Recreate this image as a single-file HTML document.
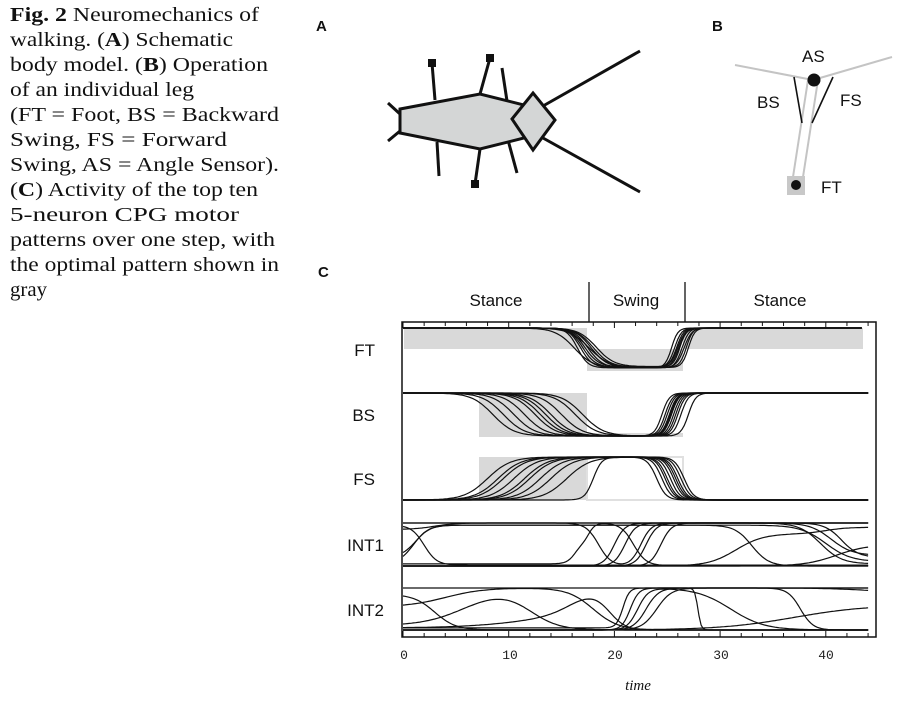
<!DOCTYPE html>
<html><head><meta charset="utf-8"><style>
html,body{margin:0;padding:0;background:#fff;}
svg{display:block;}
</style></head><body>
<svg id="s" width="905" height="703" viewBox="0 0 905 703" xmlns="http://www.w3.org/2000/svg">
<g font-family="Liberation Serif, serif" font-size="20" fill="#111">
<text x="10" y="21" textLength="249" lengthAdjust="spacingAndGlyphs"><tspan font-weight="bold">Fig. 2</tspan>  Neuromechanics of</text>
<text x="10" y="46" textLength="223" lengthAdjust="spacingAndGlyphs">walking. (<tspan font-weight="bold">A</tspan>) Schematic</text>
<text x="10" y="71" textLength="258" lengthAdjust="spacingAndGlyphs">body model. (<tspan font-weight="bold">B</tspan>) Operation</text>
<text x="10" y="96" textLength="184" lengthAdjust="spacingAndGlyphs">of an individual leg</text>
<text x="10" y="121" textLength="269" lengthAdjust="spacingAndGlyphs">(FT = Foot, BS = Backward</text>
<text x="10" y="146" textLength="217" lengthAdjust="spacingAndGlyphs">Swing, FS  =  Forward</text>
<text x="10" y="171" textLength="269" lengthAdjust="spacingAndGlyphs">Swing, AS = Angle Sensor).</text>
<text x="10" y="196" textLength="248" lengthAdjust="spacingAndGlyphs">(<tspan font-weight="bold">C</tspan>) Activity of the top ten</text>
<text x="10" y="221" textLength="229" lengthAdjust="spacingAndGlyphs">5-neuron CPG motor</text>
<text x="10" y="246" textLength="265" lengthAdjust="spacingAndGlyphs">patterns over one step, with</text>
<text x="10" y="271" textLength="269" lengthAdjust="spacingAndGlyphs">the optimal pattern shown in</text>
<text x="10" y="296" textLength="37" lengthAdjust="spacingAndGlyphs">gray</text>
</g>
<g font-family="Liberation Sans, sans-serif" font-weight="bold" font-size="15" fill="#111">
<text x="316" y="31">A</text><text x="712" y="31">B</text><text x="318" y="277">C</text>
</g>
<!-- Panel A -->
<g stroke="#111" stroke-width="3" fill="none" stroke-linecap="butt">
<line x1="543" y1="106" x2="640" y2="51"/><line x1="543" y1="138" x2="640" y2="192"/>
<line x1="388" y1="103" x2="400" y2="114"/><line x1="388" y1="141" x2="400" y2="131"/>
<line x1="435" y1="100" x2="432" y2="63"/><line x1="480" y1="94" x2="490" y2="58"/>
<line x1="507" y1="101" x2="502" y2="68"/>
<line x1="437" y1="142" x2="439" y2="176"/><line x1="480" y1="149" x2="475" y2="184"/>
<line x1="508" y1="140" x2="517" y2="173"/>
<polygon points="400,109 480,94 528,106 528,137 480,149 400,133" fill="#d4d6d6"/>
<polygon points="533,93 555,120 533,150 512,119" fill="#d4d6d6"/>
</g>
<g fill="#111"><rect x="428" y="59" width="8" height="8"/><rect x="486" y="54" width="8" height="8"/><rect x="471" y="180" width="8" height="8"/></g>
<!-- Panel B -->
<g stroke="#c4c4c4" stroke-width="2" fill="none">
<line x1="735" y1="65" x2="813" y2="80"/><line x1="892" y1="57" x2="813" y2="80"/>
<line x1="808" y1="80" x2="793" y2="177"/><line x1="818" y1="80" x2="803" y2="177"/>
</g>
<rect x="787" y="176" width="18" height="19" fill="#c8c8c8"/>
<circle cx="796" cy="185" r="5" fill="#111"/>
<circle cx="814" cy="80" r="6.5" fill="#111"/>
<g stroke="#111" stroke-width="1.6"><line x1="794" y1="77" x2="802" y2="123"/><line x1="833" y1="77" x2="812" y2="123"/></g>
<g font-family="Liberation Sans, sans-serif" font-size="17" fill="#111">
<text x="802" y="62">AS</text><text x="757" y="108">BS</text><text x="840" y="106">FS</text><text x="821" y="193">FT</text>
</g>
<!-- Panel C header -->
<g font-family="Liberation Sans, sans-serif" font-size="17" fill="#111" text-anchor="middle">
<text x="496" y="306">Stance</text><text x="636" y="306">Swing</text><text x="780" y="306">Stance</text>
<text x="375" y="356" text-anchor="end">FT</text><text x="375" y="421" text-anchor="end">BS</text>
<text x="375" y="485" text-anchor="end">FS</text><text x="384" y="551" text-anchor="end">INT1</text>
<text x="384" y="616" text-anchor="end">INT2</text>
</g>
<g stroke="#111" stroke-width="1.3"><line x1="589" y1="282" x2="589" y2="322"/><line x1="685" y1="282" x2="685" y2="322"/></g>
<!-- gray boxes -->
<g fill="#d9d9d9">
<rect x="404" y="328" width="183" height="21"/><rect x="587" y="349" width="96" height="22"/><rect x="683" y="328" width="180" height="21"/>
<rect x="479" y="393" width="108" height="44"/><rect x="587" y="433" width="96" height="4"/>
<rect x="479" y="457" width="108" height="43"/>
</g>
<rect x="587" y="457" width="96" height="43" fill="none" stroke="#e0e0e0" stroke-width="2"/>
<g id="curves" fill="none" stroke="#111" stroke-width="1.2"></g>
<g id="ticks" stroke="#111" stroke-width="1"></g>
<rect x="402" y="322" width="474" height="315" fill="none" stroke="#111" stroke-width="1.5"/>
<g font-family="Liberation Mono, monospace" font-size="13" fill="#222" text-anchor="middle">
<text x="404" y="659">0</text><text x="510" y="659">10</text><text x="615" y="659">20</text><text x="721" y="659">30</text><text x="826" y="659">40</text>
</g>
<text x="638" y="690" font-family="Liberation Serif, serif" font-style="italic" font-size="15" text-anchor="middle" fill="#111">time</text>
</svg>
<script>
(function(){
var NS="http://www.w3.org/2000/svg";
var X=function(t){return 403+10.57*t;};
var g=document.getElementById("curves");
function sig(z){return 1/(1+Math.exp(-z));}
function add(top,bot,init,tr,end){
 end=end||44;var d="";
 for(var t=0;t<=end+1e-6;t+=0.2){
  var v=init;for(var i=0;i<tr.length;i++){v+=tr[i][2]*sig((t-tr[i][0])/tr[i][1]);}
  v=Math.max(0,Math.min(1,v));
  var y=bot-(bot-top)*v;d+=(t===0?"M":"L")+X(t).toFixed(1)+","+y.toFixed(1);
 }
 var p=document.createElementNS(NS,"path");p.setAttribute("d",d);g.appendChild(p);
}
var ftd=[16.5,16.8,17,17.2,17.5,17.8,18,18.3,16.2,17.6],ftu=[25.4,25.7,26,26.2,26.4,26.6,26.8,25.9,26.1,27];
for(var i=0;i<10;i++){add(328,370,1,[[ftd[i],0.5+0.05*i,-0.95+0.01*(i%4)],[ftu[i],0.3+0.03*(i%3),0.95-0.01*(i%4)]],43.5);}
var bsd=[8.5,9.5,10.5,11.5,12.5,13,13.5,14,15,16.3,17],bsu=[24.5,24.8,25,25.2,25.4,25.6,25.8,26,26.3,27,25.3];
for(var i=0;i<11;i++){add(393,436,1,[[bsd[i],1.0,-1],[bsu[i],0.35,1]]);}
var fsu=[8,9,9.5,10.5,11.5,12,13,14,15.5,18],fsd=[24,24.5,25,25.3,25.6,25.8,26,26.3,26.6,24.8];
for(var i=0;i<10;i++){add(457,500,0,[[fsu[i],i==9?0.4:1.1,1],[fsd[i],0.45,-1]]);}
var T1=523,B1=566;
add(T1,B1,1,[]);add(T1,B1,0,[]);
add(T1,B1,0.95,[[2,0.6,-0.93]]);
add(T1,B1,0.2,[[1.2,0.7,0.75],[33,0.8,-0.95]]);
add(T1,B1,0.05,[[1,0.7,0.9],[40,1.2,-0.85]]);
add(T1,B1,0.05,[[16.3,0.4,0.5],[17.6,0.3,0.45],[21.8,0.6,-0.99]]);
add(T1,B1,1,[[18.5,0.6,-1],[22.5,0.5,1]]);
add(T1,B1,0,[[20,0.5,1],[41.5,0.8,-0.8]]);
add(T1,B1,0,[[21,0.5,1],[40.5,1,-0.75]]);
add(T1,B1,0,[[23,0.5,1],[39.5,1,-0.95]]);
add(T1,B1,0,[[24.4,0.5,1]]);
add(T1,B1,0,[[31.5,1.3,0.75],[40,1,0.15]]);
add(T1,B1,0,[[41,1.5,0.5]]);
add(T1,B1,0.85,[[3,1,0.15]]);
var T2=588,B2=630;
add(T2,B2,1,[]);add(T2,B2,0,[]);
add(T2,B2,0.85,[[3,1,-0.85]]);
add(T2,B2,0.55,[[4,1.8,0.45],[18,1.2,-1]]);
add(T2,B2,0.1,[[6,2,0.9],[12,1.4,-1]]);
add(T2,B2,0.05,[[11,3,0.3],[16,1.3,0.65],[19.5,0.8,-1]]);
add(T2,B2,0.05,[[20.8,0.3,0.95],[27.9,0.15,-1]]);
add(T2,B2,0,[[22.2,0.5,1],[31,1.6,-1]]);
add(T2,B2,0,[[23,0.6,1],[37.6,0.6,-1]]);
add(T2,B2,0,[[21.5,0.4,1],[43.5,2,-0.1]]);
add(T2,B2,0,[[37,3.5,0.6]]);
add(T2,B2,0,[[24,0.7,1]]);
var tk=document.getElementById("ticks");
for(var t=0;t<=44;t+=2){var x=X(t),L=(t%10===0)?6:4;
 var a=document.createElementNS(NS,"line");a.setAttribute("x1",x);a.setAttribute("x2",x);a.setAttribute("y1",322);a.setAttribute("y2",322+L);tk.appendChild(a);
 var b=document.createElementNS(NS,"line");b.setAttribute("x1",x);b.setAttribute("x2",x);b.setAttribute("y1",637);b.setAttribute("y2",637-L);tk.appendChild(b);}
})();
</script>
</body></html>
